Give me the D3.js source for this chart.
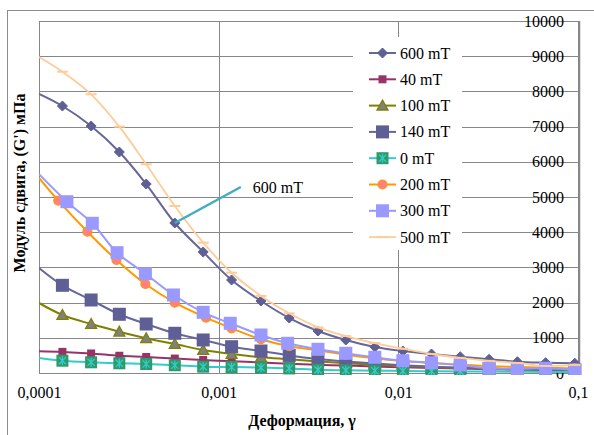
<!DOCTYPE html>
<html><head><meta charset="utf-8">
<script src="https://cdn.jsdelivr.net/npm/d3@7"></script>
<style>
body{margin:0;background:#fff}
svg{display:block}
</style>
</head><body>
<svg id="c" width="594" height="435" font-family="Liberation Serif"></svg>
<script>
// ---- data (first point of each series sits on the left axis edge) ----
const strain    = [1e-4, 1.35e-4, 1.95e-4, 2.8e-4, 3.95e-4, 5.7e-4, 8.2e-4, 1.18e-3, 1.72e-3, 2.47e-3, 3.57e-3, 5.1e-3, 7.4e-3, 0.0106, 0.0153, 0.0221, 0.032, 0.046, 0.066, 0.096];
const strain200 = [1e-4, 1.28e-4, 1.86e-4, 2.70e-4, 3.91e-4, 5.7e-4, 8.5e-4, 1.18e-3, 1.72e-3, 2.47e-3, 3.57e-3, 5.1e-3, 7.4e-3, 0.0106, 0.0153, 0.0221, 0.032, 0.046, 0.066, 0.096];
const strain300 = [1e-4, 1.43e-4, 1.98e-4, 2.72e-4, 3.91e-4, 5.6e-4, 8.2e-4, 1.16e-3, 1.72e-3, 2.42e-3, 3.57e-3, 5.1e-3, 7.4e-3, 0.0106, 0.0153, 0.0221, 0.032, 0.046, 0.066, 0.096];

const g600 = [7930, 7585, 7017, 6278, 5369, 4261, 3438, 2642, 2045, 1562, 1193, 937, 739, 625, 540, 463, 389, 321, 293, 276];
const g40  = [620, 600, 555, 490, 455, 410, 370, 335, 300, 265, 235, 210, 185, 165, 145, 125, 110, 95, 80, 70];
const g100 = [1989, 1648, 1392, 1173, 986, 824, 653, 540, 446, 390, 330, 280, 235, 200, 170, 145, 125, 105, 95, 80];
const g140 = [2983, 2491, 2074, 1668, 1392, 1128, 938, 747, 625, 500, 400, 330, 270, 220, 180, 150, 125, 105, 95, 85];
const g0   = [426, 349, 304, 276, 256, 220, 179, 170, 151, 130, 90, 77, 65, 57, 50, 45, 40, 35, 30, 30];
const g200 = [5540, 4895, 4014, 3210, 2528, 1997, 1571, 1270, 960, 760, 640, 520, 420, 340, 285, 235, 195, 170, 150, 130];
const g300 = [5650, 4866, 4253, 3418, 2821, 2216, 1724, 1412, 1080, 844, 673, 560, 446, 349, 290, 227, 134, 122, 134, 85];
const g500 = [8980, 8560, 7918, 6998, 5929, 4744, 3702, 2849, 2188, 1696, 1298, 1050, 852, 690, 540, 430, 345, 285, 200, 230];

const seriesNames = ["600 mT", "40 mT", "100 mT", "140 mT", "0 mT", "200 mT", "300 mT", "500 mT"];
const xTicks = [0.0001, 0.001, 0.01, 0.1];
const xTickLabels = ["0,0001", "0,001", "0,01", "0,1"];
const yTicks = [0, 1000, 2000, 3000, 4000, 5000, 6000, 7000, 8000, 9000, 10000];
const annotationText = "600 mT";
const xTitle = "Деформация, γ";
const yTitle = "Модуль сдвига, (G') мПа";

const FONT = "Liberation Serif";

// ---- styles ----
const series = [
  {name: seriesNames[0], xs: strain,    ys: g600, line: "#666699", w: 2,   marker: "diamond", fill: "#5f5f96", stroke: "#5f5f96", size: 10},
  {name: seriesNames[1], xs: strain,    ys: g40,  line: "#993366", w: 2,   marker: "square",  fill: "#993366", stroke: "#993366", size: 8},
  {name: seriesNames[2], xs: strain,    ys: g100, line: "#808000", w: 2,   marker: "triangle",fill: "#808080", stroke: "#808000", size: 11},
  {name: seriesNames[3], xs: strain,    ys: g140, line: "#666699", w: 2,   marker: "square",  fill: "#5f5f96", stroke: "#5f5f96", size: 13},
  {name: seriesNames[4], xs: strain,    ys: g0,   line: "#33cccc", w: 2,   marker: "star",    fill: "#2e9a6c", stroke: "#33cccc", size: 12},
  {name: seriesNames[5], xs: strain200, ys: g200, line: "#ff9900", w: 2,   marker: "circle",  fill: "#ff8080", stroke: "#ff9900", size: 10},
  {name: seriesNames[6], xs: strain300, ys: g300, line: "#9999ff", w: 2,   marker: "square",  fill: "#9999ff", stroke: "#9999ff", size: 13},
  {name: seriesNames[7], xs: strain,    ys: g500, line: "#ffcc99", w: 1.8, marker: "dash",    fill: "none",    stroke: "#ffcc99", size: 11}
];

const svg = d3.select("#c");
const L = 39, R = 578, T = 21, B = 373;
const x = d3.scaleLog().domain([1e-4, 0.1]).range([L, R]);
const y = d3.scaleLinear().domain([0, 10000]).range([B, T]);

// outer chart border
svg.append("rect").attr("x", 7.5).attr("y", 10.5).attr("width", 620).attr("height", 450)
  .attr("fill", "none").attr("stroke", "#8c8c8c").attr("stroke-width", 1);

// gridlines
const grid = svg.append("g").attr("stroke", "#878787").attr("stroke-width", 1).attr("shape-rendering", "crispEdges");
grid.selectAll("line.h").data(yTicks).join("line")
  .attr("x1", L).attr("x2", R).attr("y1", d => Math.round(y(d)) + 0.5).attr("y2", d => Math.round(y(d)) + 0.5);
grid.selectAll("line.v").data(xTicks).join("line")
  .attr("y1", T).attr("y2", B).attr("x1", d => Math.round(x(d)) + 0.5).attr("x2", d => Math.round(x(d)) + 0.5);

// y tick labels (inside the plot, right aligned, over the gridlines)
const yAxis = d3.axisLeft(y).tickValues(yTicks).tickSize(0).tickPadding(14).tickFormat(d3.format("d"));
const ya = svg.append("g").attr("transform", `translate(${R},0)`).call(yAxis)
  .attr("font-family", FONT).attr("font-size", 16);
ya.select(".domain").remove();
ya.selectAll("text").attr("fill", "#000").attr("font-family", FONT).attr("font-size", 16);
svg.append("line").attr("x1", R + 1.5).attr("x2", R + 1.5).attr("y1", T).attr("y2", B + 1)
  .attr("stroke", "#878787").attr("stroke-width", 1.5);

// x tick labels
const xAxis = d3.axisBottom(x).tickValues(xTicks).tickSize(0).tickPadding(14).tickFormat((d, i) => xTickLabels[i]);
const xa = svg.append("g").attr("transform", `translate(0,${B})`).call(xAxis)
  .attr("font-family", FONT).attr("font-size", 16);
xa.select(".domain").remove();
xa.selectAll("text").attr("fill", "#000").attr("font-family", FONT).attr("font-size", 16);

// clip
svg.append("clipPath").attr("id", "plot").append("rect").attr("x", L).attr("y", T - 2).attr("width", R - L + 4).attr("height", B - T + 4);

function drawMarker(g, s, cx, cy) {
  const h = s.size / 2;
  if (s.marker === "diamond") {
    g.append("path").attr("d", `M${cx},${cy - h}L${cx + h},${cy}L${cx},${cy + h}L${cx - h},${cy}Z`)
      .attr("fill", s.fill).attr("stroke", s.stroke).attr("stroke-width", 1);
  } else if (s.marker === "square") {
    g.append("rect").attr("x", cx - h).attr("y", cy - h).attr("width", s.size).attr("height", s.size)
      .attr("fill", s.fill).attr("stroke", "none");
  } else if (s.marker === "triangle") {
    g.append("path").attr("d", `M${cx},${cy - h}L${cx + h},${cy + h * 0.8}L${cx - h},${cy + h * 0.8}Z`)
      .attr("fill", s.fill).attr("stroke", s.stroke).attr("stroke-width", 1.3);
  } else if (s.marker === "circle") {
    g.append("circle").attr("cx", cx).attr("cy", cy).attr("r", h - 0.5)
      .attr("fill", s.fill).attr("stroke", s.stroke).attr("stroke-width", 1.2);
  } else if (s.marker === "dash") {
    g.append("line").attr("x1", cx - h).attr("x2", cx + h).attr("y1", cy).attr("y2", cy)
      .attr("stroke", s.stroke).attr("stroke-width", 2);
  } else if (s.marker === "star") {
    g.append("rect").attr("x", cx - h).attr("y", cy - h).attr("width", s.size).attr("height", s.size)
      .attr("fill", s.fill);
    const k = h * 0.6;
    g.append("path").attr("d", `M${cx - k},${cy - k}L${cx + k},${cy + k}M${cx + k},${cy - k}L${cx - k},${cy + k}M${cx},${cy - h * 0.75}L${cx},${cy + h * 0.75}`)
      .attr("stroke", s.stroke).attr("stroke-width", 1.3).attr("fill", "none");
  }
}

const plot = svg.append("g").attr("clip-path", "url(#plot)");
const lineGen = d3.line().x(d => x(d[0])).y(d => y(d[1])).curve(d3.curveCatmullRom.alpha(0.5));
series.forEach(s => {
  const pts = s.xs.map((v, i) => [v, s.ys[i]]);
  const g = plot.append("g");
  g.append("path").attr("d", lineGen(pts)).attr("fill", "none").attr("stroke", s.line)
    .attr("stroke-width", s.w).attr("stroke-linejoin", "round");
  pts.forEach((p, i) => { if (p[0] > 1e-4) drawMarker(g, s, x(p[0]), y(p[1])); });
});

// annotation callout anchored to the 600 mT point
const ai = 5;
const ax0 = x(strain[ai]), ay0 = y(g600[ai]);
svg.append("line").attr("x1", ax0).attr("y1", ay0).attr("x2", ax0 + 66).attr("y2", ay0 - 36)
  .attr("stroke", "#40adc4").attr("stroke-width", 2.5);
svg.append("text").attr("x", ax0 + 78).attr("y", ay0 - 30).attr("font-family", FONT).attr("font-size", 16)
  .attr("fill", "#000").text(annotationText);

// legend
const lg = svg.append("g");
lg.append("rect").attr("x", 353).attr("y", 37).attr("width", 109).attr("height", 213).attr("fill", "#fff");
series.forEach((s, i) => {
  const cy = 53 + i * 26.3;
  lg.append("line").attr("x1", 369).attr("x2", 396).attr("y1", cy).attr("y2", cy)
    .attr("stroke", s.line).attr("stroke-width", s.w);
  drawMarker(lg, s, 382.5, cy);
  lg.append("text").attr("x", 400).attr("y", cy + 5.5).attr("font-family", FONT).attr("font-size", 16)
    .attr("fill", "#000").text(s.name);
});

// axis titles
svg.append("text").attr("x", 302).attr("y", 426).attr("text-anchor", "middle").attr("font-family", FONT)
  .attr("font-size", 16).attr("font-weight", "bold").attr("fill", "#000").text(xTitle);
svg.append("text").attr("transform", "translate(25,183) rotate(-90)").attr("text-anchor", "middle").attr("font-family", FONT)
  .attr("font-size", 16).attr("font-weight", "bold").attr("fill", "#000").text(yTitle);
</script>
</body></html>
